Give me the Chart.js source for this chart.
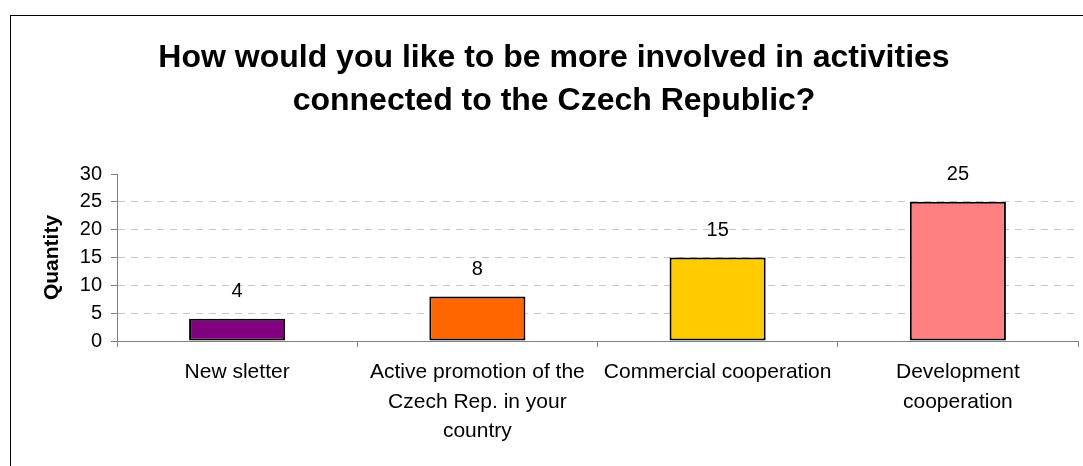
<!DOCTYPE html>
<html>
<head>
<meta charset="utf-8">
<title>Involvement in activities</title>
<script src="https://cdn.jsdelivr.net/npm/chart.js@4/dist/chart.umd.min.js"></script>
<style>
  html, body { margin: 0; padding: 0; background: #fff; }
  canvas { display: block; }
</style>
</head>
<body>
<canvas id="chart" width="1083" height="466"></canvas>
<script>
const categories = [
  'New sletter',
  ['Active promotion of the', 'Czech Rep. in your', 'country'],
  'Commercial cooperation',
  ['Development', 'cooperation']
];
const quantities = [4, 8, 15, 25];
const barColors = ['#800080', '#FF6600', '#FFCC00', '#FF8080'];
const yTicks = [0, 5, 10, 15, 20, 25, 30];

Chart.defaults.font.family = "'Liberation Sans', Arial, sans-serif";
Chart.defaults.color = '#000';

// white background plus the outer frame line
const framePlugin = {
  id: 'frame',
  beforeDraw(chart) {
    const ctx = chart.ctx;
    ctx.save();
    ctx.fillStyle = '#fff';
    ctx.fillRect(0, 0, chart.width, chart.height);
    ctx.strokeStyle = '#000';
    ctx.lineWidth = 1;
    ctx.strokeRect(10.5, 15.5, chart.width + 20, chart.height + 20);
    ctx.restore();
  }
};

// value printed above each bar
const valueLabels = {
  id: 'valueLabels',
  afterDatasetsDraw(chart) {
    const ctx = chart.ctx;
    const meta = chart.getDatasetMeta(0);
    ctx.save();
    ctx.font = "20px 'Liberation Sans', Arial, sans-serif";
    ctx.fillStyle = '#000';
    ctx.textAlign = 'center';
    ctx.textBaseline = 'middle';
    meta.data.forEach((bar, i) => {
      ctx.fillText(String(quantities[i]), bar.x, bar.y - 27);
    });
    ctx.restore();
  }
};

new Chart(document.getElementById('chart'), {
  type: 'bar',
  data: {
    labels: categories,
    datasets: [{
      data: quantities,
      backgroundColor: barColors,
      borderColor: '#000',
      borderWidth: 2,
      borderSkipped: false,
      barPercentage: 0.4,
      categoryPercentage: 1
    }]
  },
  options: {
    responsive: false,
    animation: false,
    layout: { padding: { left: 30, right: 5, top: 0, bottom: 0 } },
    plugins: {
      legend: { display: false },
      tooltip: { enabled: false },
      title: {
        display: true,
        text: ['How would you like to be more involved in activities', 'connected to the Czech Republic?'],
        font: { size: 32, weight: 'bold', lineHeight: 1.344 },
        color: '#000',
        padding: { top: 37, bottom: 51 }
      }
    },
    scales: {
      x: {
        grid: {
          drawOnChartArea: false,
          color: '#808080',
          tickLength: 6
        },
        border: { color: '#808080', width: 1 },
        ticks: {
          font: { size: 21, lineHeight: 1.4 },
          padding: 11,
          maxRotation: 0,
          autoSkip: false
        },
        afterFit(scale) { scale.height = 125; }
      },
      y: {
        min: 0,
        max: 30,
        afterBuildTicks(scale) { scale.ticks = yTicks.map(v => ({ value: v })); },
        grid: {
          color: ctx => (ctx.tick && (ctx.tick.value === 0 || ctx.tick.value === 30)) ? 'rgba(0,0,0,0)' : '#c8c8c8',
          tickColor: '#808080',
          tickLength: 6
        },
        border: { color: '#808080', width: 1, dash: [7, 6] },
        ticks: {
          font: { size: 20 },
          padding: 9
        },
        title: {
          display: true,
          text: 'Quantity',
          font: { size: 21, weight: 'bold' },
          padding: { top: 10, bottom: 0 }
        },
        afterFit(scale) { scale.width = 87; }
      }
    }
  },
  plugins: [framePlugin, valueLabels]
});
</script>
</body>
</html>
